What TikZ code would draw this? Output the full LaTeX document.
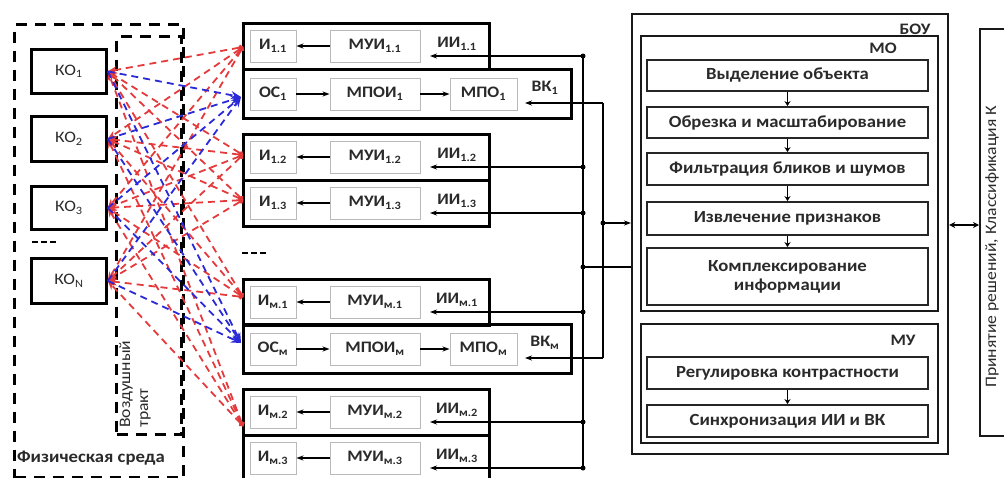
\documentclass[tikz,border=0pt]{standalone}
\usepackage{fontspec}
\setmainfont{Carlito}[FakeStretch=1.1]
\usetikzlibrary{arrows.meta}
\definecolor{rdc}{HTML}{E43A3C}
\definecolor{blc}{HTML}{2A2AD8}
\definecolor{tx}{HTML}{2A2A2A}
\newcommand\fs{\fontsize{17}{19}\selectfont}
\newcommand\fm{\fontsize{16}{18}\selectfont}
\tikzset{
 tbox/.style={draw=black, line width=2.6pt, inner sep=0pt, anchor=north west},
 kobox/.style={draw=black, line width=2.8pt, inner sep=0pt, anchor=north west, minimum width=75pt, text=tx, font=\fm},
 ibox/.style={draw=gray!55, line width=0.9pt, inner sep=0pt, fill=white, text=tx, font=\fm\bfseries, minimum height=32pt},
 pbox/.style={draw=black!85, line width=1.8pt, inner sep=0pt, text=tx, font=\fs\bfseries, minimum width=281pt, align=center},
 gbox/.style={draw=black!90, line width=2.2pt, inner sep=0pt, anchor=north west},
 lbl/.style={text=tx, font=\fm\bfseries, inner sep=0pt},
 arr/.style={-{Stealth[length=7pt,width=5pt]}, line width=1.1pt},
 sarr/.style={-{Stealth[length=5pt,width=6pt]}, line width=1pt},
 rline/.style={rdc, line width=1.8pt, dash pattern=on 7pt off 5pt, {Circle[length=5pt]}-{Stealth[length=9pt,width=7pt]}},
 bline/.style={blc, line width=1.8pt, dash pattern=on 7pt off 5pt, -{Stealth[length=10pt,width=8pt]}},
 dbox/.style={draw, line width=3pt, dash pattern=on 11pt off 8pt, inner sep=0pt, anchor=north west},
 dot/.style={circle, fill=black, inner sep=0pt, minimum size=5pt},
}
\newcommand\irow[3]{%
 \node[tbox, minimum width=246pt, minimum height=46pt] (R#1) at (242,#2) {};
 \node[ibox, minimum width=46pt] (I#1) at (273,#2+24) {И\textsubscript{#3}};
 \node[ibox, minimum width=90pt] (M#1) at (375,#2+24) {МУИ\textsubscript{#3}};
 \node[lbl] (L#1) at (457,#2+22) {ИИ\textsubscript{#3}};
 \node[dot] (b#1) at (583,#2+34) {};
 \coordinate (e#1) at (430,#2+34);
 \draw[arr] (b#1.center) -- (e#1);
 \draw[arr] (M#1) -- (I#1);
}
\newcommand\vrow[3]{%
 \node[tbox, minimum width=328pt, minimum height=49pt] (V#1) at (242,#2) {};
 \node[ibox, minimum width=46pt] (O#1) at (273,#2+26) {ОС\textsubscript{#3}};
 \node[ibox, minimum width=90pt] (P#1) at (375,#2+26) {МПОИ\textsubscript{#3}};
 \node[ibox, minimum width=67pt] (Q#1) at (483.5,#2+26) {МПО\textsubscript{#3}};
 \node[lbl] (W#1) at (545,#2+20) {ВК\textsubscript{#3}};
 \coordinate (c#1) at (603,#2+35);
 \coordinate (f#1) at (525,#2+35);
 \draw[arr] (c#1) -- (f#1);
 \draw[arr] (O#1) -- (P#1);
 \draw[arr] (P#1) -- (Q#1);
}
\begin{document}
\begin{tikzpicture}[x=1pt,y=-1pt]
\useasboundingbox (0,0) rectangle (1004,477);
\clip (0,0) rectangle (1004,477);
% physical medium
\node[dbox, minimum width=169pt, minimum height=453pt] (phys) at (13,23) {};
\node[dbox, minimum width=65pt, minimum height=398pt] (air) at (115,35) {};
\node[lbl, font=\fs\bfseries, anchor=west] (physlbl) at (17,458) {Физическая среда};
\node[text=tx, font=\fm, inner sep=0pt, rotate=90, anchor=north west, align=left] (airlbl) at (119,428) {Воздушный\\тракт};
% objects
\node[kobox, minimum height=44pt] (ko1) at (30,48) {КО\textsubscript{1}};
\node[kobox, minimum height=45pt] (ko2) at (30,115) {КО\textsubscript{2}};
\node[kobox, minimum height=43pt] (ko3) at (30,185) {КО\textsubscript{3}};
\node[kobox, minimum height=45pt] (koN) at (30,257) {КО\textsubscript{N}};
\coordinate (s1a) at (32,242); \coordinate (s1b) at (58,242);
\draw[line width=1.2pt, dash pattern=on 6pt off 3pt] (s1a) -- (s1b);
\coordinate (s2a) at (242,253); \coordinate (s2b) at (268,253);
\draw[line width=1.2pt, dash pattern=on 6pt off 3pt] (s2a) -- (s2b);
% rows
\irow{a}{22}{1.1}
\vrow{a}{68}{1}
\irow{b}{133}{1.2}
\irow{c}{179}{1.3}
\irow{d}{278}{м.1}
\vrow{d}{323}{м}
\irow{e}{388}{м.2}
\irow{f}{434}{м.3}
% BOU
\node[gbox, minimum width=316pt, minimum height=440pt] (BOU) at (631,13) {};
\node[lbl] (boul) at (915,29) {БОУ};
\node[gbox, minimum width=297pt, minimum height=275pt] (MO) at (640,35) {};
\node[lbl] (mol) at (883,48) {МО};
\node[gbox, minimum width=297pt, minimum height=119pt] (MU) at (640,323) {};
\node[lbl] (mul) at (903,340) {МУ};
\node[pbox, minimum height=31pt] (p1) at (787.5,75.5) {Выделение объекта};
\node[pbox, minimum height=31pt] (p2) at (787.5,122.5) {Обрезка и масштабирование};
\node[pbox, minimum height=32pt] (p3) at (787.5,169) {Фильтрация бликов и шумов};
\node[pbox, minimum height=33pt] (p4) at (787.5,218.5) {Извлечение признаков};
\node[pbox, minimum height=57pt] (p5) at (787.5,276.5) {Комплексирование\\информации};
\node[pbox, minimum height=32pt] (p6) at (787.5,373) {Регулировка контрастности};
\node[pbox, minimum height=32pt] (p7) at (787.5,421) {Синхронизация ИИ и ВК};
\draw[sarr] (p1) -- (p2);
\draw[sarr] (p2) -- (p3);
\draw[sarr] (p3) -- (p4);
\draw[sarr] (p4) -- (p5);
\draw[sarr] (p6) -- (p7);
% decision
\node[gbox, minimum width=40pt, minimum height=407pt] (DEC) at (979,28) {};
\node[text=tx, font=\fm, inner sep=0pt, rotate=90, anchor=west] (dectxt) at (992,388) {Принятие решений, Классификация К};
\coordinate (dj) at (963,225);
\draw[{Stealth[length=6pt,width=6pt]}-{Stealth[length=6pt,width=6pt]}, line width=1.1pt] (dj -| BOU.east) -- (dj -| DEC.west);
% buses
\draw[line width=1.1pt] (ba.center) -- (bf.center);
\draw[line width=1.1pt] (ca) -- (cd);
\node[dot] (bj) at (583,267) {};
\draw[line width=1.1pt] (bj.center) -- (bj -| BOU.west);
\node[dot] (vj) at (603,223) {};
\draw[arr] (vj.center) -- (vj -| BOU.west);
% light paths
\coordinate (t1) at (243,47);
\coordinate (t2) at (243,155);
\coordinate (t3) at (243,200);
\coordinate (t4) at (243,297);
\coordinate (t5) at (243,426);
\coordinate (o1) at (241,97);
\coordinate (o2) at (241,343);
\foreach \s in {t1,t2,t3,t4,t5}{
  \foreach \k in {ko1,koN,ko2,ko3}{
    \draw[rline] (\s) -- (\k.east);
  }
}
\foreach \k in {ko1,ko2,ko3,koN}{
  \foreach \o in {o1,o2}{
    \draw[bline] (\k.east) -- (\o);
  }
}
\end{tikzpicture}
\end{document}
